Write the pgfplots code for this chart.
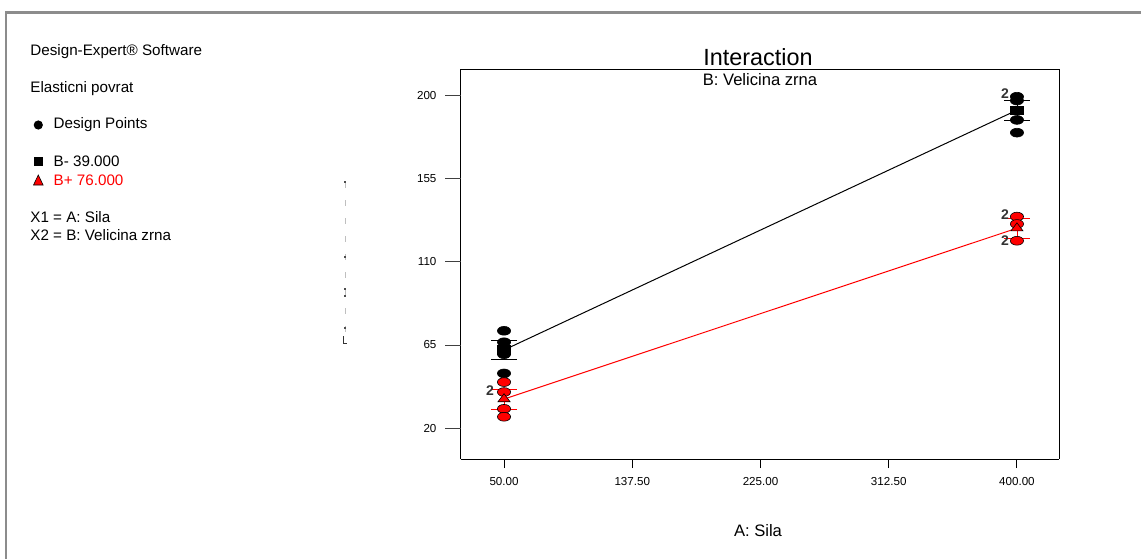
\documentclass[border=0pt]{standalone}
\usepackage{pgfplots}
\pgfplotsset{compat=1.18}
\usepackage{fontspec}
\setmainfont{Liberation Sans}
\begin{document}
\begin{tikzpicture}
\begin{scope}[x=0.5pt,y=-0.5pt]
\path[use as bounding box] (0,0) rectangle (1141,559);
\fill[white] (0,0) rectangle (1141,559);
% outer frame
\draw[line width=1.3pt, color=black!45] (1141,12.7) -- (6,12.7) -- (6,559);
% left info text
\begin{scope}[every node/.style={anchor=west, inner sep=0pt, font=\fontsize{7.6}{9}\selectfont}]
\node at (30,51.7) {Design-Expert® Software};
\node at (30,88.3) {Elasticni povrat};
\node at (53.3,125) {Design Points};
\node at (53.3,161.7) {B- 39.000};
\node[text=red] at (53.3,180) {B+ 76.000};
\node at (30,217.3) {X1 = A: Sila};
\node at (30,235) {X2 = B: Velicina zrna};
\end{scope}
\fill[black] (38.3,125) circle[radius=4.6];
\fill[black] (34,157.3) rectangle (42.6,165.9);
\filldraw[fill=red, draw=black, line width=0.3pt] (33.5,185) -- (43.1,185) -- (38.3,175) -- cycle;
% stray dotted artefact
\draw[black!25, dash pattern=on 3pt off 6pt, line width=0.4pt] (345,182) -- (345,336);
\fill[black!70] (344,181) rectangle (346,183);
\fill[black!70] (343.5,256) rectangle (345.5,258);
\fill[black!70] (343.5,288) rectangle (345.5,290);
\fill[black!70] (344,294.5) rectangle (346,296.5);
\fill[black!70] (343.5,327) rectangle (346,328.5);
\draw[black!80, line width=0.5pt] (343.5,336) -- (343.5,343) -- (347,343);
% title texts
\node[font=\fontsize{11.7}{13}\selectfont] at (758,56.7) {Interaction};
\node[font=\fontsize{8.3}{10}\selectfont] at (760,80) {B: Velicina zrna};
\node[font=\fontsize{8.3}{10}\selectfont] at (758,531) {A: Sila};
\end{scope}
\begin{axis}[
  at={(230.25pt,-34.5pt)}, anchor=north west,
  scale only axis, width=299.25pt, height=195pt,
  xmin=20.3, xmax=428.7, ymin=3.2, ymax=214.6,
  clip=false,
  axis line style={line width=0.5pt},
  xtick={50,137.5,225,312.5,400},
  xticklabels={50.00,137.50,225.00,312.50,400.00},
  ytick={20,65,110,155,200},
  tick align=outside,
  major tick length=4.5pt,
  ytick style={draw=none},
  xtick style={black, line width=0.5pt},
  tick label style={font=\fontsize{5.8}{7}\selectfont},
  yticklabel style={xshift=-4pt},
  xticklabel style={yshift=-1pt},
  /pgf/number format/assume math mode=true,
  axis x line*=bottom, axis y line*=left,
]
\pgfplotsinvokeforeach{20,65,110,155,200}{
  \draw[line width=0.5pt, black!75] (axis cs:20.3,#1) -- ++(-8pt,0pt);
}
\draw[line width=0.5pt] (rel axis cs:0,1) -- (rel axis cs:1,1) -- (rel axis cs:1,0);
% interaction lines
\addplot[black, line width=0.5pt, mark=none] coordinates {(50,62.3) (400,192.3)};
\addplot[red, line width=0.5pt, mark=none] coordinates {(50,35.7) (400,128.3)};
% LSD bars
\addplot[black, line width=0.5pt, mark=none, draw=none,
  error bars/.cd, y dir=both, y explicit,
  error bar style={line width=0.4pt, black},
  error mark options={rotate=90, mark size=6.5pt, line width=0.5pt, black}]
  coordinates {(50,62.3) +- (0,5.4) (400,192.3) +- (0,5.4)};
\addplot[red, line width=0.5pt, mark=none, draw=none,
  error bars/.cd, y dir=both, y explicit,
  error bar style={line width=0.4pt, red},
  error mark options={rotate=90, mark size=6.5pt, line width=0.5pt, red}]
  coordinates {(50,35.7) +- (0,5.4) (400,128.3) +- (0,5.4)};
% design points
\addplot[only marks, mark=*, mark size=2.2pt,
  mark options={xscale=1.5, fill=black, draw=black, line width=0.3pt}]
  coordinates {(50,72.7) (50,66.5) (50,62.5) (50,60.0) (50,49.6)
               (400,199.6) (400,197.5) (400,187.0) (400,180.1)};
\addplot[only marks, mark=*, mark size=2.2pt,
  mark options={xscale=1.5, fill=red, draw=black, line width=0.3pt}]
  coordinates {(50,44.9) (50,39.5) (50,30.4) (50,26.1)
               (400,134.6) (400,130.6) (400,121.5)};
% mean markers
\addplot[only marks, mark=square*, mark size=2.1pt,
  mark options={xscale=1.55, fill=black, draw=black}]
  coordinates {(50,62.3) (400,192.3)};
\addplot[only marks, mark=triangle*, mark size=2.7pt,
  mark options={xscale=1.3, fill=red, draw=black, line width=0.3pt}]
  coordinates {(50,35.7) (400,128.3)};
% replicate counts
\begin{scope}[every node/.style={font=\bfseries\fontsize{7}{8}\selectfont, text=black!80, inner sep=0pt}]
\node at (axis cs:50,39.5) [xshift=-7pt, yshift=0.8pt] {2};
\node at (axis cs:400,199.6) [xshift=-6pt, yshift=1.3pt] {2};
\node at (axis cs:400,134.6) [xshift=-6pt, yshift=0.8pt] {2};
\node at (axis cs:400,121.5) [xshift=-6pt, yshift=0pt] {2};
\end{scope}
\end{axis}
\end{tikzpicture}
\end{document}
